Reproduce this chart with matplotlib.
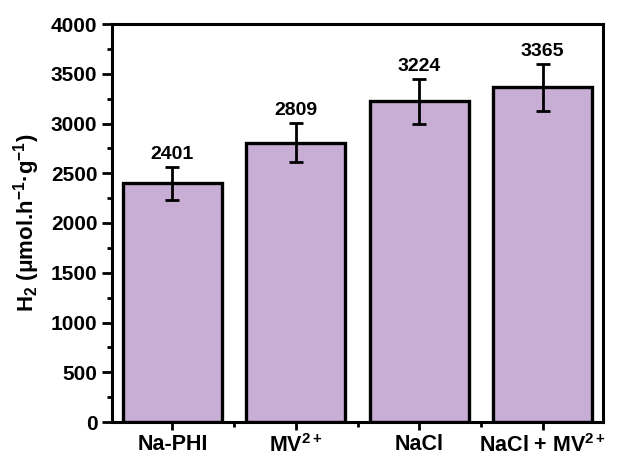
import matplotlib
matplotlib.use("Agg")
import matplotlib.pyplot as plt
from matplotlib.ticker import MultipleLocator, FixedLocator

categories = ["Na-PHI", "MV$^{2+}$", "NaCl", "NaCl + MV$^{2+}$"]
values = [2401, 2809, 3224, 3365]
errors = [165, 200, 225, 235]

plt.rcParams['font.family'] = ['Liberation Sans', 'DejaVu Sans']
plt.rcParams['font.weight'] = 'bold'
plt.rcParams['mathtext.fontset'] = 'custom'
plt.rcParams['mathtext.rm'] = 'Liberation Sans:bold'
plt.rcParams['mathtext.it'] = 'Liberation Sans:bold'
plt.rcParams['mathtext.bf'] = 'Liberation Sans:bold'
plt.rcParams['axes.unicode_minus'] = False

fig = plt.figure(figsize=(6.18, 4.58), dpi=100)
ax = fig.add_axes([112/618, 1-422/458, 491/618, 398/458])

x = list(range(len(values)))
ax.bar(x, values, width=0.8, color='#c8aed4', edgecolor='black', linewidth=2.4, zorder=2)
ax.errorbar(x, values, yerr=errors, fmt='none', ecolor='black', elinewidth=2, capsize=5, capthick=2, zorder=3)
for xi, v, e in zip(x, values, errors):
    ax.text(xi, v + e + 35, str(v), ha='center', va='bottom', fontsize=14, fontweight='bold')

ax.set_xlim(-0.49, 3.49)
ax.set_ylim(0, 4000)
ax.set_xticks(x)
ax.set_xticklabels(categories, fontsize=15.5, fontweight='bold')
ax.xaxis.set_minor_locator(FixedLocator([0.5, 1.5, 2.5]))
ax.yaxis.set_major_locator(MultipleLocator(500))
ax.yaxis.set_minor_locator(MultipleLocator(250))
ax.tick_params(axis='y', which='major', direction='out', length=7, width=2, labelsize=15)
ax.tick_params(axis='x', which='major', direction='out', length=6, width=2, pad=3)
ax.tick_params(axis='both', which='minor', direction='out', length=3.5, width=2)
for lbl in ax.get_yticklabels():
    lbl.set_fontweight('bold')
for s in ax.spines.values():
    s.set_linewidth(2.2)
ax.set_ylabel("H$_2$ (\u03bcmol.h$^{-1}$\u00b7g$^{-1}$)", fontsize=16, fontweight='bold', labelpad=6)

fig.savefig("out.png", dpi=100)
